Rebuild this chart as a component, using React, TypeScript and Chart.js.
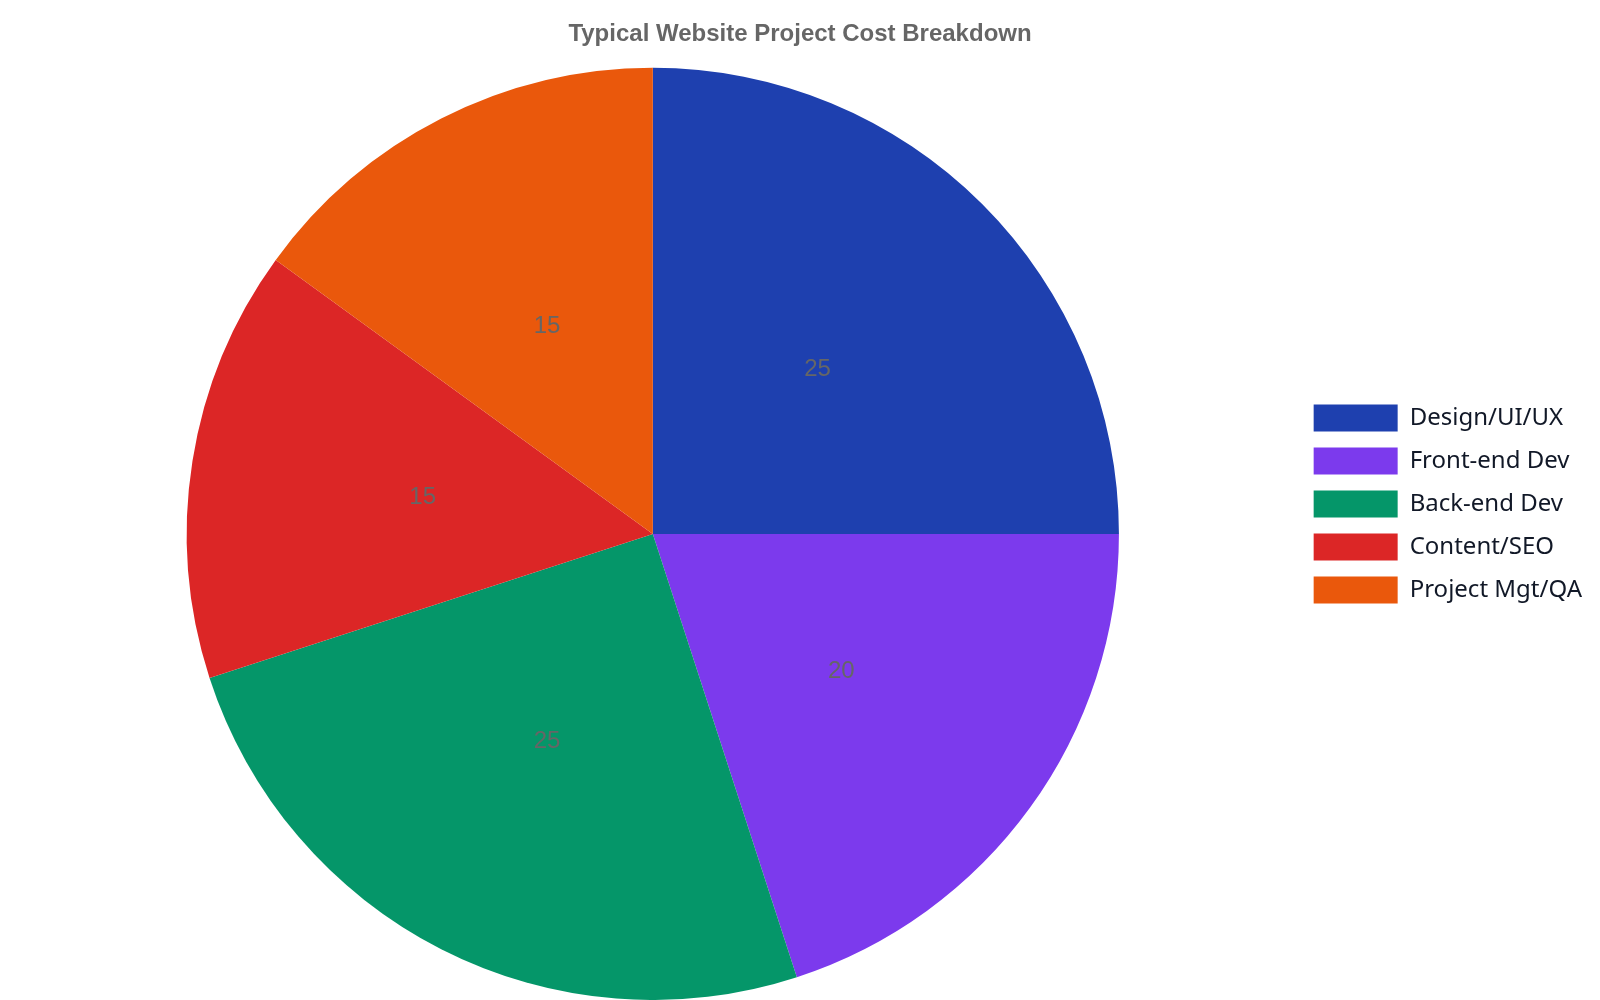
import { useEffect, useRef } from "react";
import { Chart, registerables } from "chart.js";

Chart.register(...registerables);

const categories = ["Design/UI/UX", "Front-end Dev", "Back-end Dev", "Content/SEO", "Project Mgt/QA"];
const costShare = [25, 20, 25, 15, 15];
const sliceColors = ["#1e40af", "#7c3aed", "#059669", "#dc2626", "#ea580c"];

// draws the value in the middle of each slice
const sliceLabels = {
  id: "sliceLabels",
  afterDatasetsDraw(chart: any) {
    const ctx = chart.ctx;
    const meta = chart.getDatasetMeta(0);
    ctx.save();
    ctx.font = "24px 'Liberation Sans', Arial, sans-serif";
    ctx.fillStyle = "#666666";
    ctx.textAlign = "center";
    ctx.textBaseline = "middle";
    meta.data.forEach((arc: any, i: number) => {
      const { x, y } = arc.tooltipPosition();
      ctx.fillText(String(chart.data.datasets[0].data[i]), x, y);
    });
    ctx.restore();
  },
};

export default function App() {
  const canvasRef = useRef<HTMLCanvasElement>(null);

  useEffect(() => {
    if (!canvasRef.current) return;
    const chart = new Chart(canvasRef.current, {
      type: "pie",
      data: {
        labels: categories,
        datasets: [
          {
            data: costShare,
            backgroundColor: sliceColors,
            borderWidth: 0,
          },
        ],
      },
      options: {
        responsive: true,
        maintainAspectRatio: false,
        animation: false,
        plugins: {
          title: {
            display: true,
            text: "Typical Website Project Cost Breakdown",
            color: "#666666",
            font: { family: "'Liberation Sans', Arial, sans-serif", size: 24, weight: "bold" },
            padding: { top: 12, bottom: 19 },
          },
          legend: {
            position: "right",
            labels: {
              boxWidth: 84,
              boxHeight: 27,
              padding: 16,
              color: "#111827",
              font: { family: "'Noto Sans', sans-serif", size: 24 },
            },
          },
          tooltip: { enabled: false },
        },
      },
      plugins: [sliceLabels],
    });
    return () => chart.destroy();
  }, []);

  return (
    <div style={{ width: 1584, height: 992, position: "relative" }}>
      <canvas ref={canvasRef}></canvas>
    </div>
  );
}
